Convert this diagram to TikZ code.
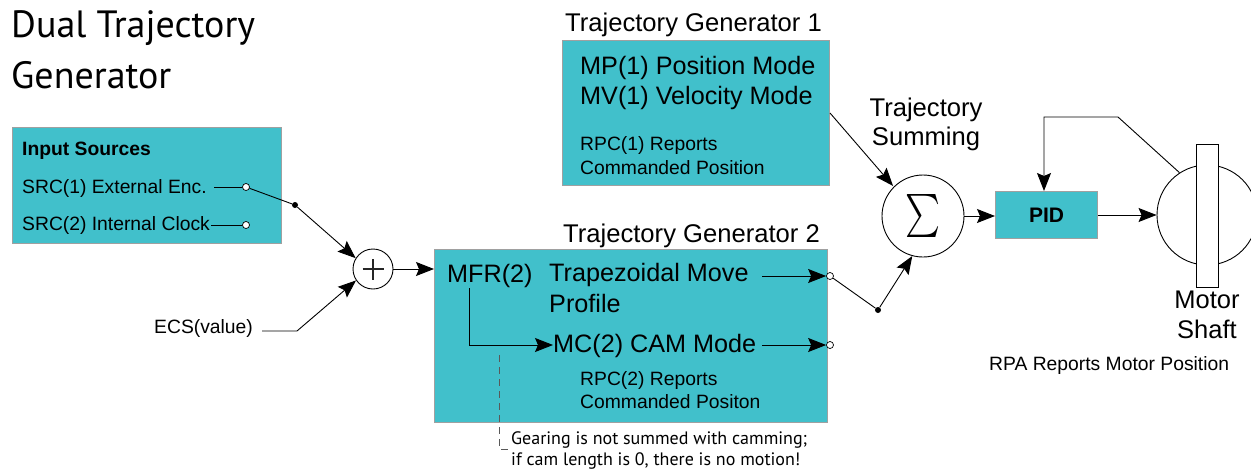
\documentclass[tikz,border=0pt]{standalone}
\usepackage{fontspec}
\usepackage{graphicx}
\setmainfont{Liberation Sans}
\newfontfamily\myriad{PT Sans}
\usetikzlibrary{arrows.meta}
\definecolor{tealbox}{RGB}{65,192,203}
\definecolor{boxedge}{RGB}{160,160,160}
\begin{document}
\begin{tikzpicture}[x=1pt,y=-1pt,
  box/.style={draw=boxedge, fill=tealbox, line width=1pt, inner sep=0pt},
  ln/.style={line width=0.9pt},
  arr/.style={ln, -{Stealth[length=18pt,width=14pt,inset=3pt]}},
  ocirc/.style={circle, draw, fill=white, inner sep=0pt, minimum size=7pt, line width=0.7pt},
  jdot/.style={circle, fill=black, inner sep=0pt, minimum size=6pt},
  txt/.style={inner sep=0pt, anchor=base west},
  ctxt/.style={inner sep=0pt, anchor=base},
  big/.style={font=\fontsize{25.2}{30}\selectfont},
  small/.style={font=\fontsize{19.3}{23}\selectfont},
  lab/.style={font=\fontsize{25.6}{30}\selectfont},
  note/.style={font=\myriad\fontsize{18}{21}\selectfont},
]
\useasboundingbox (0,0) rectangle (1251,469);

% title
\node[txt, font=\myriad\fontsize{38}{46}\selectfont] (ttl1) at (11,37) {Dual Trajectory};
\node[txt, font=\myriad\fontsize{38}{46}\selectfont] (ttl2) at (11,88) {Generator};

% input sources
\node[box, minimum width=269pt, minimum height=116pt, anchor=north west] (inp) at (12,127) {};
\node[txt, font=\bfseries\fontsize{19.3}{23}\selectfont] (insrc) at (22,155) {Input Sources};
\node[txt, small] (src1) at (22,193) {SRC(1) External Enc.};
\node[txt, small] (src2) at (22,230) {SRC(2) Internal Clock};
\node[ocirc] (o1) at (246,187) {};
\node[ocirc] (o2) at (246,225) {};
\draw[ln, shorten >=7pt] (o1.west) -- (o1.west -| src1.east);
\draw[ln, shorten >=1pt] (o2.west) -- (o2.west -| src2.east);
\node[jdot] (j1) at (295,205) {};
\node[circle, draw, ln, minimum size=40pt, inner sep=0pt] (plus) at (373,269) {};
\draw[line width=1.4pt, black!85] ([xshift=-10.5pt]plus.center) -- ([xshift=10.5pt]plus.center);
\draw[line width=1.4pt, black!85] ([yshift=-10.5pt]plus.center) -- ([yshift=10.5pt]plus.center);
\draw[ln] (o1) -- (j1);
\draw[arr] (j1) -- (plus.148);

\node[txt, small] (ecs) at (154,333) {ECS(value)};
\coordinate (e1) at (262,331);
\coordinate (e2) at (297,331);
\draw[arr] (e1) -- (e2) -- (plus.214);

% trajectory generator 2
\node[box, minimum width=393pt, minimum height=173pt, anchor=north west] (tg2) at (434,249) {};
\node[txt, lab] (tg2l) at (563,242) {Trajectory Generator 2};
\node[txt, big] (mfr) at (447,282) {MFR(2)};
\node[txt, big] (trap) at (549,281) {Trapezoidal Move};
\node[txt, big] (prof) at (549,312) {Profile};
\node[txt, big] (mc) at (553,352) {MC(2) CAM Mode};
\node[txt, small] (rpc2a) at (580,385) {RPC(2) Reports};
\node[txt, small] (rpc2b) at (580,408) {Commanded Positon};
\draw[arr] (plus.east) -- (plus.east -| tg2.west);

\coordinate (a3) at (762,276);
\coordinate (a4) at (762,345);
\node[ocirc] (o3) at (830,276) {};
\node[ocirc] (o4) at (830,345) {};
\draw[arr] (a3) -- (o3.west);
\draw[arr] (a4) -- (o4.west);
\coordinate (m1) at (469,288);
\coordinate (m2) at (469,345);
\draw[arr] (m1) -- (m2) -- (mc.west |- m2);

% note
\node[txt, note] (note1) at (511,444) {Gearing is not summed with camming;};
\node[txt, note] (note2) at (511,465) {if cam length is 0, there is no motion!};
\coordinate (d1) at (499,355);
\coordinate (d2) at (499,449);
\draw[line width=0.6pt, gray!70!black, dash pattern=on 7pt off 5pt] (d1) -- (d2) -- (d2 -| note1.west);

% trajectory generator 1
\node[box, minimum width=267pt, minimum height=145pt, anchor=north west] (tg1) at (562,40) {};
\node[txt, lab] (tg1l) at (565,31) {Trajectory Generator 1};
\node[txt, big] (mp1) at (580,74) {MP(1) Position Mode};
\node[txt, big] (mv1) at (580,104) {MV(1) Velocity Mode};
\node[txt, small] (rpc1a) at (580,150) {RPC(1) Reports};
\node[txt, small] (rpc1b) at (580,174) {Commanded Position};

% summing
\node[ctxt, lab] (ts1) at (926,116) {Trajectory};
\node[ctxt, lab] (ts2) at (926,145) {Summing};
\node[circle, draw, ln, minimum size=82pt, inner sep=0pt] (sum) at (923,216) {\resizebox*{35pt}{43pt}{$\sum$}};
\draw[arr, shorten >=1pt] (tg1.east) -- (sum.135);
\node[jdot] (j2) at (878,310) {};
\draw[ln] (o3) -- (j2);
\draw[arr] (j2) -- (sum.255);

% PID and motor
\node[box, minimum width=102pt, minimum height=47pt, anchor=north west, font=\bfseries\fontsize{21}{24}\selectfont] (pid) at (995,191) {PID};
\draw[arr] (sum.east) -- (sum.east -| pid.west);
\node[circle, draw, ln, minimum size=100pt, inner sep=0pt] (motor) at (1207,215) {};
\node[draw, ln, fill=white, minimum width=22pt, minimum height=143pt, inner sep=0pt] (shaft) at (1207,215.5) {};
\draw[arr] (pid.east) -- (pid.east -| motor.west);
\coordinate (f1) at (1118,117);
\coordinate (f2) at (1044,117);
\draw[arr] (motor.123) -- (f1) -- (f2) -- (f2 |- pid.north);

\node[ctxt, font=\fontsize{25.5}{30}\selectfont] (ms1) at (1207,308) {Motor};
\node[ctxt, font=\fontsize{25.5}{30}\selectfont] (ms2) at (1207,338) {Shaft};
\node[txt, small] (rpa) at (989,370) {RPA Reports Motor Position};
\end{tikzpicture}
\end{document}
